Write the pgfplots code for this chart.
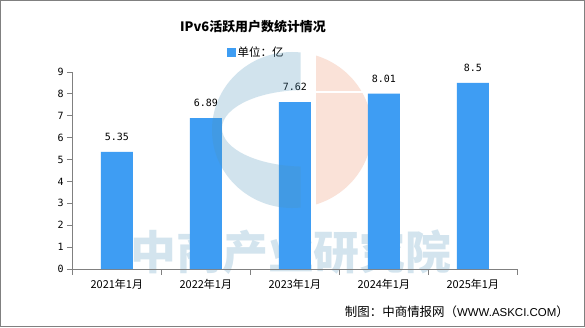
\documentclass[border=0pt]{standalone}
\usepackage{pgfplots}
\pgfplotsset{compat=1.18}
\usepackage{fontspec}
\setmainfont{Noto Sans CJK SC}
\newfontfamily\monofont{DejaVu Sans Mono}
\newfontfamily\latinfont{Liberation Sans}
\definecolor{barblue}{RGB}{62,157,243}
\definecolor{wmblue}{RGB}{75,147,187}
\definecolor{wmtext}{RGB}{211,228,238}
\definecolor{wmpeach}{RGB}{250,226,216}
\definecolor{axgray}{RGB}{128,128,128}
\begin{document}
\begin{tikzpicture}[x=1bp,y=1bp]
\useasboundingbox (0,0) rectangle (585,327);
\fill[white] (0,0) rectangle (585,327);
% watermark (behind)
\begin{scope}
\clip (316,0) rectangle (585,233.7);
\fill[wmpeach] (292,197) ellipse [x radius=80bp, y radius=78bp];
\end{scope}
\begin{scope}
\clip (316,237) rectangle (585,327);
\fill[wmpeach] (292,197) ellipse [x radius=80bp, y radius=78bp];
\end{scope}
\node[font=\bfseries\fontsize{46}{46}\selectfont, text=wmtext] at (291,75) {中商产业研究院};
\begin{axis}[
  at={(72.3bp,58bp)}, anchor=south west, scale only axis,
  width=445bp, height=197bp,
  xmin=-0.5, xmax=4.5, ymin=0, ymax=9,
  ybar, bar width=32bp,
  axis x line*=bottom, axis y line*=left,
  x axis line style={-}, y axis line style={-},
  axis line style={draw=axgray, line width=0.9bp},
  ytick={0,1,2,3,4,5,6,7,8,9},
  tick align=outside, major tick length=5.5bp,
  tick style={draw=axgray, line width=0.9bp},
  xtick={-0.5,0.5,1.5,2.5,3.5,4.5}, xticklabels={},
  extra x ticks={0,1,2,3,4},
  extra x tick labels={2021年1月,2022年1月,2023年1月,2024年1月,2025年1月},
  extra x tick style={major tick length=0pt, grid=none,
    tick label style={font=\fontsize{11}{13}\selectfont, anchor=north, inner sep=0pt, yshift=-10bp}},
  y tick label style={font=\monofont\fontsize{10}{12}\selectfont, anchor=east, inner sep=0pt, xshift=-3bp},
  /pgf/number format/assume math mode=true,
  legend style={at={(0.413,1.099)}, anchor=center, draw=none, fill=none,
    font=\fontsize{11.5}{13}\selectfont, inner sep=0pt},
  legend image code/.code={\fill[barblue] (0bp,-4.5bp) rectangle (9bp,4.5bp);},
  clip=false,
]
\addplot[fill=barblue, draw=none,
  nodes near coords, point meta=explicit symbolic,
  every node near coord/.append style={font=\monofont\fontsize{10}{12}\selectfont, anchor=south, inner sep=0pt, yshift=11bp, text=black}]
  table[meta=lab] {
x y lab
0 5.35 5.35
1 6.89 6.89
2 7.62 7.62
3 8.01 8.01
4 8.5 8.5
};
\addlegendentry{单位：亿}
\end{axis}
% watermark (over)
\begin{scope}
\clip (0,0) rectangle (300.7,327);
\fill[wmblue, opacity=0.25, even odd rule] (292,197) ellipse [x radius=80bp, y radius=78bp]
  (305,198.7) ellipse [x radius=83bp, y radius=38.3bp];
\end{scope}
\node[font=\bfseries\fontsize{13}{15}\selectfont] at (253,300) {IPv6活跃用户数统计情况};
\node[anchor=east, font=\fontsize{12.5}{14}\selectfont, inner sep=0pt] at (569,15) {制图：中商情报网（{\latinfont\fontsize{11.5}{13}\selectfont WWW.ASKCI.COM}）};
\draw[axgray, line width=1bp] (0.5,0.5) rectangle (584.5,326.5);
\end{tikzpicture}
\end{document}
